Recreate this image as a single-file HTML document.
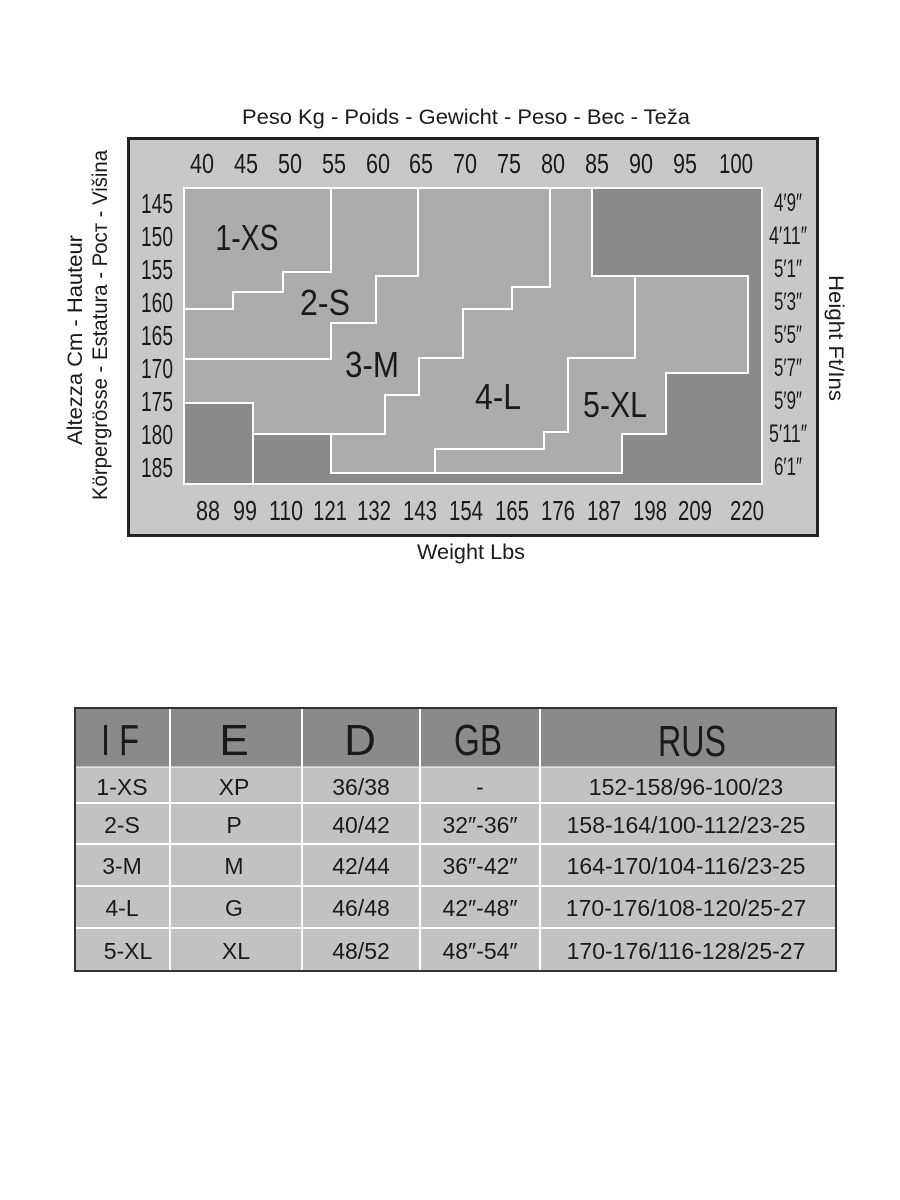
<!DOCTYPE html>
<html><head><meta charset="utf-8"><style>
html,body{margin:0;padding:0;background:#fff;}
svg{display:block}
text{font-family:"Liberation Sans","DejaVu Sans",sans-serif;fill:#1a1a1a}
</style></head><body>
<svg width="900" height="1200" viewBox="0 0 900 1200" xmlns="http://www.w3.org/2000/svg">
<rect x="128.5" y="138.5" width="689" height="397" fill="#c8c8c8" stroke="#222" stroke-width="3"/>
<rect x="184" y="188" width="578" height="296" fill="#acacac"/>
<polygon fill="#8a8a8a" points="184,403 253,403 253,434 331,434 331,473 622,473 622,434 666,434 666,373 748,373 748,276 592,276 592,188 762,188 762,484 184,484"/>
<g fill="none" stroke="#fff" stroke-width="2">
<rect x="184" y="188" width="578" height="296"/>
<polyline points="253,484 253,403 184,403"/>
<polyline points="253,434 331,434 331,473 622,473 622,434 666,434 666,373 748,373 748,276 592,276 592,188"/>
<polyline points="331,188 331,272 283,272 283,292 233,292 233,309 184,309"/>
<polyline points="418,188 418,276 376,276 376,323 331,323 331,359 184,359"/>
<polyline points="550,188 550,287 512,287 512,309 463,309 463,358 419,358 419,395 385,395 385,434 253,434"/>
<polyline points="635,276 635,358 568,358 568,432 544,432 544,449 435,449 435,473"/>
</g>
<g font-size="28" text-anchor="middle">
<g transform="translate(0,173)">
<text x="202" textLength="24" lengthAdjust="spacingAndGlyphs">40</text>
<text x="246" textLength="24" lengthAdjust="spacingAndGlyphs">45</text>
<text x="290" textLength="24" lengthAdjust="spacingAndGlyphs">50</text>
<text x="334" textLength="24" lengthAdjust="spacingAndGlyphs">55</text>
<text x="378" textLength="24" lengthAdjust="spacingAndGlyphs">60</text>
<text x="421" textLength="24" lengthAdjust="spacingAndGlyphs">65</text>
<text x="465" textLength="24" lengthAdjust="spacingAndGlyphs">70</text>
<text x="509" textLength="24" lengthAdjust="spacingAndGlyphs">75</text>
<text x="553" textLength="24" lengthAdjust="spacingAndGlyphs">80</text>
<text x="597" textLength="24" lengthAdjust="spacingAndGlyphs">85</text>
<text x="641" textLength="24" lengthAdjust="spacingAndGlyphs">90</text>
<text x="685" textLength="24" lengthAdjust="spacingAndGlyphs">95</text>
<text x="736" textLength="34" lengthAdjust="spacingAndGlyphs">100</text>
</g>
<g transform="translate(0,520)">
<text x="208" textLength="24" lengthAdjust="spacingAndGlyphs">88</text>
<text x="245" textLength="24" lengthAdjust="spacingAndGlyphs">99</text>
<text x="286" textLength="34" lengthAdjust="spacingAndGlyphs">110</text>
<text x="330" textLength="34" lengthAdjust="spacingAndGlyphs">121</text>
<text x="374" textLength="34" lengthAdjust="spacingAndGlyphs">132</text>
<text x="420" textLength="34" lengthAdjust="spacingAndGlyphs">143</text>
<text x="466" textLength="34" lengthAdjust="spacingAndGlyphs">154</text>
<text x="512" textLength="34" lengthAdjust="spacingAndGlyphs">165</text>
<text x="558" textLength="34" lengthAdjust="spacingAndGlyphs">176</text>
<text x="604" textLength="34" lengthAdjust="spacingAndGlyphs">187</text>
<text x="650" textLength="34" lengthAdjust="spacingAndGlyphs">198</text>
<text x="695" textLength="34" lengthAdjust="spacingAndGlyphs">209</text>
<text x="747" textLength="34" lengthAdjust="spacingAndGlyphs">220</text>
</g>
<g>
<text x="157" y="213" textLength="32" lengthAdjust="spacingAndGlyphs">145</text>
<text x="157" y="246" textLength="32" lengthAdjust="spacingAndGlyphs">150</text>
<text x="157" y="279" textLength="32" lengthAdjust="spacingAndGlyphs">155</text>
<text x="157" y="312" textLength="32" lengthAdjust="spacingAndGlyphs">160</text>
<text x="157" y="345" textLength="32" lengthAdjust="spacingAndGlyphs">165</text>
<text x="157" y="378" textLength="32" lengthAdjust="spacingAndGlyphs">170</text>
<text x="157" y="411" textLength="32" lengthAdjust="spacingAndGlyphs">175</text>
<text x="157" y="444" textLength="32" lengthAdjust="spacingAndGlyphs">180</text>
<text x="157" y="477" textLength="32" lengthAdjust="spacingAndGlyphs">185</text>
</g>
<g font-size="25">
<text x="788" y="211" textLength="28" lengthAdjust="spacingAndGlyphs">4′9″</text>
<text x="788" y="244" textLength="38" lengthAdjust="spacingAndGlyphs">4′11″</text>
<text x="788" y="277" textLength="28" lengthAdjust="spacingAndGlyphs">5′1″</text>
<text x="788" y="310" textLength="28" lengthAdjust="spacingAndGlyphs">5′3″</text>
<text x="788" y="343" textLength="28" lengthAdjust="spacingAndGlyphs">5′5″</text>
<text x="788" y="376" textLength="28" lengthAdjust="spacingAndGlyphs">5′7″</text>
<text x="788" y="409" textLength="28" lengthAdjust="spacingAndGlyphs">5′9″</text>
<text x="788" y="442" textLength="38" lengthAdjust="spacingAndGlyphs">5′11″</text>
<text x="788" y="475" textLength="28" lengthAdjust="spacingAndGlyphs">6′1″</text>
</g>
<g font-size="36">
<text x="247" y="250" textLength="63" lengthAdjust="spacingAndGlyphs">1-XS</text>
<text x="325" y="315" textLength="50" lengthAdjust="spacingAndGlyphs">2-S</text>
<text x="372" y="377" textLength="54" lengthAdjust="spacingAndGlyphs">3-M</text>
<text x="498" y="409" textLength="46" lengthAdjust="spacingAndGlyphs">4-L</text>
<text x="615" y="417" textLength="64" lengthAdjust="spacingAndGlyphs">5-XL</text>
</g>
</g>
<text x="466" y="124" font-size="21" text-anchor="middle" textLength="448" lengthAdjust="spacingAndGlyphs">Peso Kg - Poids - Gewicht - Peso - Bec - Teža</text>
<text x="471" y="559" font-size="21" text-anchor="middle" textLength="108" lengthAdjust="spacingAndGlyphs">Weight Lbs</text>
<text transform="translate(82,340) rotate(-90)" font-size="21" text-anchor="middle" textLength="210" lengthAdjust="spacingAndGlyphs">Altezza Cm - Hauteur</text>
<text transform="translate(107,325) rotate(-90)" font-size="21" text-anchor="middle" textLength="350" lengthAdjust="spacingAndGlyphs">Körpergrösse - Estatura - Рост - Višina</text>
<text transform="translate(829,338) rotate(90)" font-size="21" text-anchor="middle" textLength="126" lengthAdjust="spacingAndGlyphs">Height Ft/Ins</text>

<rect x="75" y="708" width="761" height="263" fill="#c2c2c2" stroke="#333" stroke-width="2"/>
<rect x="76" y="709" width="759" height="58" fill="#8a8a8a"/>
<g stroke="#fff" stroke-width="2">
<line x1="76" y1="767" x2="835" y2="767" stroke-width="1"/>
<line x1="76" y1="803" x2="835" y2="803"/>
<line x1="76" y1="844" x2="835" y2="844"/>
<line x1="76" y1="886" x2="835" y2="886"/>
<line x1="76" y1="928" x2="835" y2="928"/>
<line x1="170" y1="709" x2="170" y2="970"/>
<line x1="302" y1="709" x2="302" y2="970"/>
<line x1="420" y1="709" x2="420" y2="970"/>
<line x1="540" y1="709" x2="540" y2="970"/>
</g>
<g font-size="44" text-anchor="middle">
<text x="120" y="755" textLength="38" lengthAdjust="spacingAndGlyphs">I F</text>
<text x="234" y="755">E</text>
<text x="360" y="755">D</text>
<text x="478" y="755" textLength="48" lengthAdjust="spacingAndGlyphs">GB</text>
<text x="692" y="756" textLength="68" lengthAdjust="spacingAndGlyphs">RUS</text>
</g>
<g font-size="23" text-anchor="middle">
<text x="122" y="795">1-XS</text><text x="234" y="795">XP</text><text x="361" y="795">36/38</text><text x="480" y="795">-</text><text x="686" y="795">152-158/96-100/23</text>
<text x="122" y="833">2-S</text><text x="234" y="833">P</text><text x="361" y="833">40/42</text><text x="480" y="833">32″-36″</text><text x="686" y="833">158-164/100-112/23-25</text>
<text x="122" y="874">3-M</text><text x="234" y="874">M</text><text x="361" y="874">42/44</text><text x="480" y="874">36″-42″</text><text x="686" y="874">164-170/104-116/23-25</text>
<text x="122" y="916">4-L</text><text x="234" y="916">G</text><text x="361" y="916">46/48</text><text x="480" y="916">42″-48″</text><text x="686" y="916">170-176/108-120/25-27</text>
<text x="128" y="959">5-XL</text><text x="236" y="959">XL</text><text x="361" y="959">48/52</text><text x="480" y="959">48″-54″</text><text x="686" y="959">170-176/116-128/25-27</text>
</g>
</svg>
</body></html>
